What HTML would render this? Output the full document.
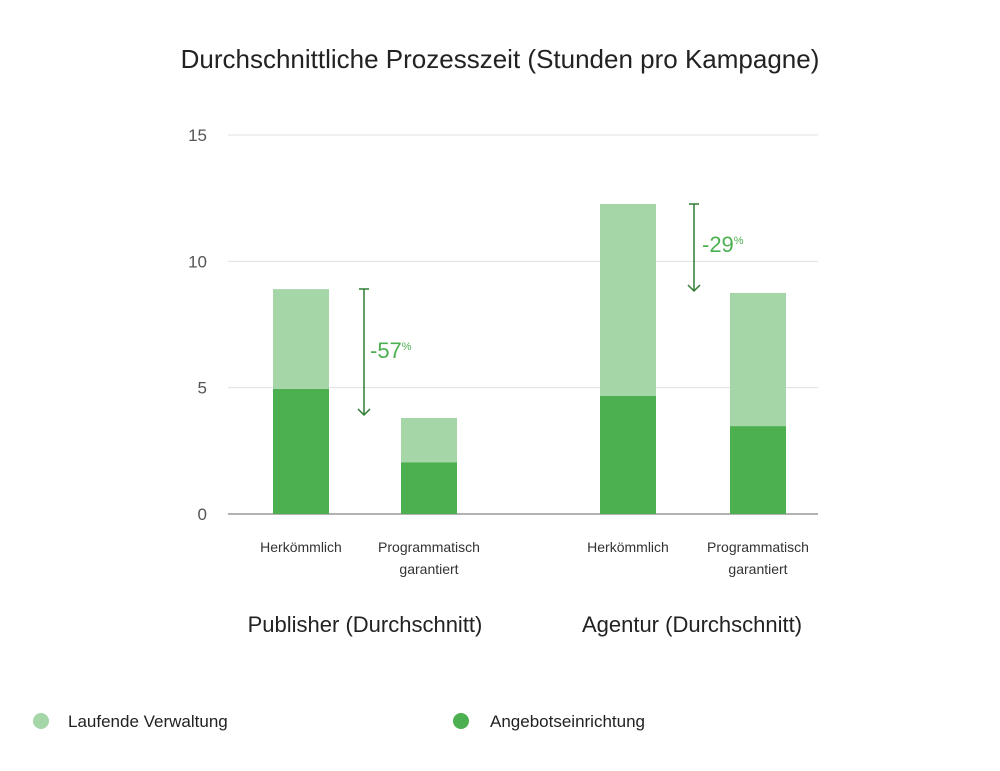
<!DOCTYPE html>
<html><head><meta charset="utf-8"><style>
body{margin:0;background:#fff;}
svg text{font-family:"Liberation Sans",sans-serif;}
</style></head><body>
<svg id="chart" width="1000" height="766" viewBox="0 0 1000 766" xmlns="http://www.w3.org/2000/svg">
<text x="500" y="68" text-anchor="middle" font-size="26" fill="#222">Durchschnittliche Prozesszeit (Stunden pro Kampagne)</text>
<g id="grid"></g>
<g id="bars"></g>
<g id="labels"></g>
<g>
<line x1="364" y1="289" x2="364" y2="415" stroke="#2e7d32" stroke-width="1.5"/>
<line x1="359" y1="289" x2="369" y2="289" stroke="#2e7d32" stroke-width="1.5"/>
<polyline points="358,409 364,415 370,409" fill="none" stroke="#2e7d32" stroke-width="1.5"/>
<text x="370" y="358" font-size="22" fill="#4caf50">-57<tspan font-size="11" dy="-8">%</tspan></text>
</g>
<g>
<line x1="694" y1="204" x2="694" y2="291" stroke="#2e7d32" stroke-width="1.5"/>
<line x1="689" y1="204" x2="699" y2="204" stroke="#2e7d32" stroke-width="1.5"/>
<polyline points="688,285 694,291 700,285" fill="none" stroke="#2e7d32" stroke-width="1.5"/>
<text x="702" y="252" font-size="22" fill="#4caf50">-29<tspan font-size="11" dy="-8">%</tspan></text>
</g>
<text x="365" y="632" text-anchor="middle" font-size="22" fill="#222">Publisher (Durchschnitt)</text>
<text x="692" y="632" text-anchor="middle" font-size="22" fill="#222">Agentur (Durchschnitt)</text>
<g>
<circle cx="41" cy="721" r="8" fill="#a5d6a7"/>
<text x="68" y="727" font-size="17" fill="#222">Laufende Verwaltung</text>
</g>
<g>
<circle cx="461" cy="721" r="8" fill="#4caf50"/>
<text x="490" y="727" font-size="17" fill="#222">Angebotseinrichtung</text>
</g>
</svg>
<script>
const categories = [["Herkömmlich"],["Programmatisch","garantiert"],["Herkömmlich"],["Programmatisch","garantiert"]];
const setupValues = [4.95, 2.05, 4.67, 3.48];
const ongoingValues = [3.95, 1.75, 7.6, 5.27];
const yTicks = [0,5,10,15];
const NS="http://www.w3.org/2000/svg";
const y0=514, pxPerUnit=(514-135)/15;
function y(v){return y0-v*pxPerUnit;}
const xCenters=[301,429,628,758];
function x(i){return xCenters[i];}
const barW=56;
const grid=document.getElementById('grid'), bars=document.getElementById('bars'), labels=document.getElementById('labels');
function mk(tag,attrs,parent){const e=document.createElementNS(NS,tag);for(const k in attrs)e.setAttribute(k,attrs[k]);parent.appendChild(e);return e;}
yTicks.forEach(t=>{
  const l=mk('line',{x1:228,x2:818,y1:y(t),y2:y(t),stroke:t===0?'#999':'#e0e0e0','stroke-width':t===0?1.5:1},grid);
  
  
  const tx=mk('text',{x:207,y:y(t)+6,'text-anchor':'end','font-size':17,fill:'#555'},grid);
  tx.textContent=t;
  
  
});
categories.forEach((c,i)=>{
  const s=setupValues[i], o=ongoingValues[i];
  const r1=mk('rect',{x:x(i)-barW/2,y:y(s),width:barW,height:y(0)-y(s),fill:'#4caf50'},bars);
  
  
  const r2=mk('rect',{x:x(i)-barW/2,y:y(s+o),width:barW,height:y(s)-y(s+o),fill:'#a5d6a7'},bars);
  
  
  c.forEach((line,j)=>{
    const t=mk('text',{x:x(i),y:552+j*22,'text-anchor':'middle','font-size':14,fill:'#333'},labels);
    t.textContent=line;
    
    
  });
});
</script>
</body></html>
